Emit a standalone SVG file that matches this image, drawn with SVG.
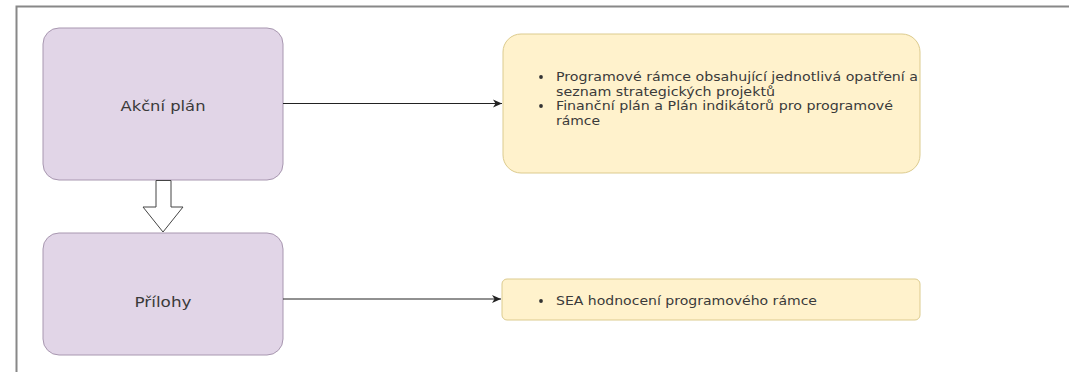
<svg xmlns="http://www.w3.org/2000/svg" width="1069" height="372" viewBox="0 0 1069 372">
<defs>
<style>
.p{fill:#e1d5e7;stroke:#a897b0;stroke-width:1}
.y{fill:#fff2cc;stroke:#dccb8e;stroke-width:1}
.t{font-family:"DejaVu Sans",Verdana,sans-serif;fill:#3a3a3a}
.c{stroke:#222;stroke-width:1;fill:none}
</style>
<marker id="ah" markerWidth="10" markerHeight="10" refX="9" refY="5" orient="auto" markerUnits="userSpaceOnUse">
<path d="M0,1 L9,5 L0,9 L2.5,5 Z" fill="#222"/>
</marker>
</defs>
<rect width="1069" height="372" fill="#fff"/>
<path d="M16.5,372 V6.5 H1069" fill="none" stroke="#888" stroke-width="2"/>
<g id="akcni-plan">
<rect class="p" x="43" y="28" width="240" height="152" rx="16"/>
<text class="t" x="163" y="111" font-size="14.5" text-anchor="middle" textLength="85" lengthAdjust="spacingAndGlyphs">Akční plán</text>
</g>
<g id="prilohy">
<rect class="p" x="43" y="233" width="240" height="122" rx="16"/>
<text class="t" x="163" y="307" font-size="14.5" text-anchor="middle" textLength="57" lengthAdjust="spacingAndGlyphs">Přílohy</text>
</g>
<g id="akcni-obsah">
<rect class="y" x="503" y="34" width="417" height="139" rx="18"/>
<g class="t" font-size="13">
<circle cx="541" cy="77" r="1.9" fill="#333"/>
<text x="556" y="81" textLength="362" lengthAdjust="spacingAndGlyphs">Programové rámce obsahující jednotlivá opatření a</text>
<text x="556" y="95.5" textLength="219" lengthAdjust="spacingAndGlyphs">seznam strategických projektů</text>
<circle cx="541" cy="106" r="1.9" fill="#333"/>
<text x="556" y="110" textLength="337" lengthAdjust="spacingAndGlyphs">Finanční plán a Plán indikátorů pro programové</text>
<text x="556" y="124.5" textLength="44" lengthAdjust="spacingAndGlyphs">rámce</text>
</g>
</g>
<g id="prilohy-obsah">
<rect class="y" x="502" y="279" width="418" height="41" rx="5"/>
<circle cx="541" cy="301" r="1.9" fill="#333"/>
<text class="t" x="556" y="305" font-size="13" textLength="261" lengthAdjust="spacingAndGlyphs">SEA hodnocení programového rámce</text>
</g>
<g id="connectors">
<path class="c" d="M283,103.5 H502" marker-end="url(#ah)"/>
<path class="c" d="M283,299 H501" marker-end="url(#ah)"/>
<path d="M156,180.5 H171 V207 H183 L163,232 L143,207 H156 Z" fill="#fff" stroke="#444" stroke-width="1"/>
</g>
</svg>
